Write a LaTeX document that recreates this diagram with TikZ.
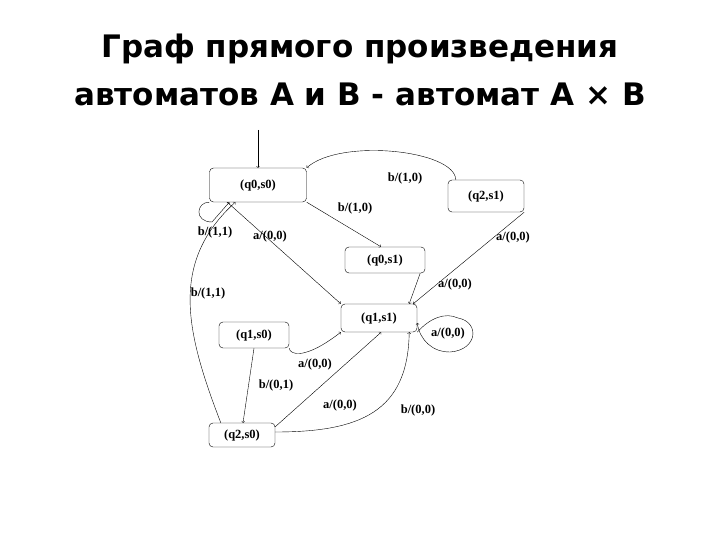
\documentclass[tikz,border=0pt]{standalone}
\usepackage{fontspec}
\setmainfont{Liberation Serif}
\newfontfamily\titlefont{DejaVu Sans}
\begin{document}
\begin{tikzpicture}[x=1pt,y=-1pt,
        state/.style={draw, rounded corners=4pt, inner sep=0pt, font=\bfseries\fontsize{12.5}{14}\selectfont},
        lbl/.style={font=\bfseries\fontsize{12.5}{14}\selectfont, inner sep=1pt},
        edge/.style={->, thin}]
        \useasboundingbox (0,0) rectangle (720,540);

        % Title
        \node[font=\titlefont\bfseries\fontsize{31}{48}\selectfont, align=center] (title) at (360,70)
            {Граф прямого произведения\\автоматов A и B - автомат A × B};

        % States
        \node[state, minimum width=97pt, minimum height=34pt] (q0s0) at (258,185) {(q0,s0)};
        \node[state, minimum width=76pt, minimum height=32pt] (q2s1) at (486,196) {(q2,s1)};
        \node[state, minimum width=80pt, minimum height=26pt] (q0s1) at (385,260) {(q0,s1)};
        \node[state, minimum width=76pt, minimum height=28pt] (q1s1) at (379,318) {(q1,s1)};
        \node[state, minimum width=70pt, minimum height=26pt] (q1s0) at (254,335) {(q1,s0)};
        \node[state, minimum width=66pt, minimum height=24pt] (q2s0) at (242,435) {(q2,s0)};

        % Initial arrow
        \coordinate (start) at (258,130);
        \draw[edge] (start) -- (q0s0.north);

        % From (q2,s1) back to (q0,s0)
        \draw[edge] ([xshift=8pt]q2s1.north west) .. controls (455,150) and (340,138) .. (q0s0.north east);
        \node[lbl] (l1) at (405,178) {b/(1,0)};

        % From (q0,s0)
        \draw[edge] (q0s0.south east) -- ([xshift=-4pt]q0s1.north);
        \node[lbl] (l2) at (355,208) {b/(1,0)};
        \draw[edge] ([xshift=18pt]q0s0.south west) -- (q1s1.north west);
        \node[lbl] (l3) at (270,236) {a/(0,0)};

        % Loop on (q0,s0)
        \draw[edge] (q0s0.south west) .. controls (196,202) and (194,222) .. (212,222)
            -- ([xshift=20pt]q0s0.south west);
        \node[lbl] (l4) at (215,232) {b/(1,1)};

        % Into (q1,s1)
        \draw[edge] ([xshift=-5pt]q0s1.south east) -- ([xshift=-8pt]q1s1.north east);
        \node[lbl] (l5) at (455,284) {a/(0,0)};
        \draw[edge] (q2s1.south east) -- ([xshift=-4pt]q1s1.north east);
        \node[lbl] (l6) at (513,237) {a/(0,0)};

        % Loop on (q1,s1)
        \draw[edge] (q1s1.south east) .. controls (430,318) and (445,312) .. (458,318)
            .. controls (480,322) and (478,350) .. (450,352)
            .. controls (432,352) and (420,340) .. ([yshift=-5pt]q1s1.east);
        \node[lbl] (l7) at (448,333) {a/(0,0)};

        % From (q2,s0) back to (q0,s0)
        \draw[edge] ([xshift=12pt]q2s0.north west) .. controls (185,330) and (170,262) .. ([xshift=26pt]q0s0.south west);
        \node[lbl] (l8) at (208,293) {b/(1,1)};

        % From (q1,s0)
        \draw[edge] (q1s0.south) -- ([xshift=1pt]q2s0.north);
        \node[lbl] (l9) at (276,385) {b/(0,1)};
        \draw[edge] (q1s0.south east) .. controls (290,355) and (305,360) .. (q1s1.south west);
        \node[lbl] (l10) at (315,364) {a/(0,0)};

        % From (q2,s0) to (q1,s1)
        \draw[edge] ([yshift=-4pt]q2s0.north east) -- ([xshift=-36pt]q1s1.south east);
        \node[lbl] (l11) at (340,405) {a/(0,0)};
        \draw[edge] ([yshift=3pt]q2s0.east) .. controls (360,432) and (408,412) .. ([xshift=-8pt]q1s1.south east);
        \node[lbl] (l12) at (418,410) {b/(0,0)};
    \end{tikzpicture}
\end{document}
